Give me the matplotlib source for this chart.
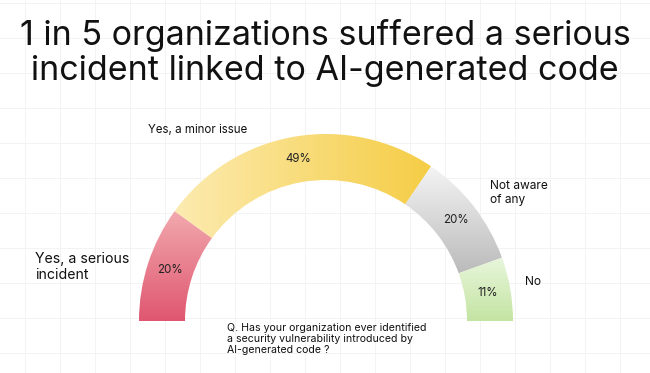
import matplotlib.pyplot as plt
import numpy as np
from matplotlib.patches import Wedge
from matplotlib.colors import LinearSegmentedColormap

categories = ["Yes, a serious\nincident", "Yes, a minor issue", "Not aware\nof any", "No"]
values = [20, 49, 20, 11]
# (start colour, end colour, gradient direction)
gradients = [("#F2A9AE", "#DF5670", "v"),
             ("#FCEBB0", "#F5CD45", "h"),
             ("#F4F4F4", "#BBBBBB", "v"),
             ("#E8F6DC", "#C4E4A2", "v")]

title = "1 in 5 organizations suffered a serious\nincident linked to AI-generated code"
question = "Q. Has your organization ever identified\na security vulnerability introduced by\nAI-generated code ?"

plt.rcParams['font.family'] = ['Inter', 'DejaVu Sans']

W, H = 650, 373
fig = plt.figure(figsize=(6.5, 3.73), dpi=100)
ax = fig.add_axes([0, 0, 1, 1])
ax.set_xlim(0, W)
ax.set_ylim(0, H)
ax.axis('off')

# faint background grid
for x in np.arange(25, W, 35):
    ax.axvline(x, color='#F3F3F3', lw=0.7, zorder=0)
for y in np.arange(3, H, 35):
    ax.axhline(H - y, color='#F3F3F3', lw=0.7, zorder=0)

cx, cy = 326, H - 321
R, r = 187, 141

theta = 180.0
for val, (c0, c1, d) in zip(values, gradients):
    span = val / sum(values) * 180
    t1, t0 = theta, theta - span
    wedge = Wedge((cx, cy), R, t0, t1, width=R - r, facecolor='none', edgecolor='none')
    ax.add_patch(wedge)
    cmap = LinearSegmentedColormap.from_list('g', [c0, c1])
    if d == 'v':
        grad = np.linspace(0, 1, 256).reshape(-1, 1)
        origin = 'upper'
    else:
        grad = np.linspace(0, 1, 256).reshape(1, -1)
        origin = 'lower'
    bb = wedge.get_path().get_extents()
    im = ax.imshow(grad, cmap=cmap, extent=[bb.x0, bb.x1, bb.y0, bb.y1],
                   origin=origin, aspect='auto', zorder=2, interpolation='bicubic')
    im.set_clip_path(wedge)
    mid = np.radians((t0 + t1) / 2)
    rm = (R + r) / 2
    ax.text(cx + rm * np.cos(mid), cy + rm * np.sin(mid), f"{val}%",
            ha='center', va='center', fontsize=8.3, color='#222222', zorder=3)
    theta = t0

ax.set_xlim(0, W)
ax.set_ylim(0, H)

ax.text(W / 2, H - 53, title, ha='center', va='center', fontsize=24.5,
        color='#111111', linespacing=1.1)

ax.text(35, H - 267, categories[0], ha='left', va='center', fontsize=10.2, color='#111111',
        linespacing=1.15)
ax.text(148, H - 130, categories[1], ha='left', va='center', fontsize=8.3, color='#111111')
ax.text(490, H - 193, categories[2], ha='left', va='center', fontsize=8.6, color='#111111',
        linespacing=1.15)
ax.text(525, H - 282, categories[3], ha='left', va='center', fontsize=8.6, color='#111111')

ax.text(227, H - 339, question, ha='left', va='center', fontsize=7.6, color='#111111',
        linespacing=1.1)

fig.savefig('out.png', dpi=100, facecolor='white')
